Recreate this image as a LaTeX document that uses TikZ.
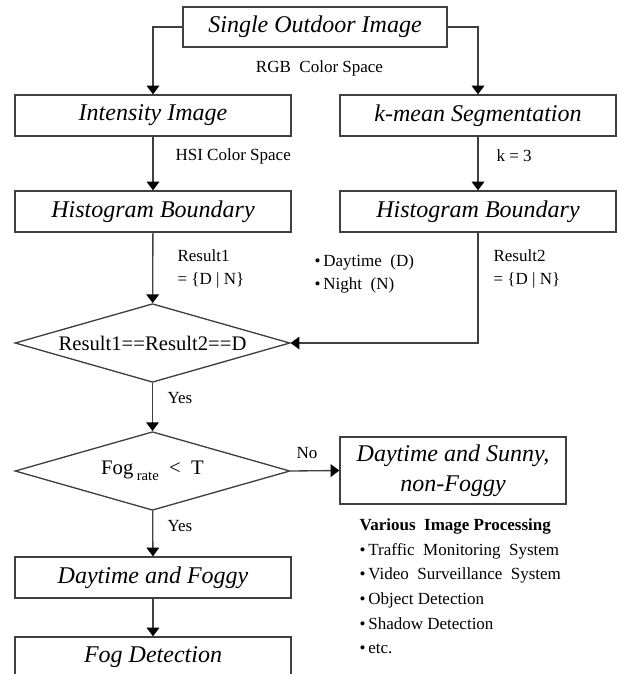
\documentclass[tikz,border=0pt]{standalone}
\usepackage{fontspec}
\setmainfont{Liberation Serif}
\usetikzlibrary{shapes.geometric,arrows.meta}

\begin{document}
\begin{tikzpicture}[x=0.75pt,y=-0.75pt]
    \tikzstyle{every node} = [font=\fontsize{12.75}{17.25}\selectfont]
    \tikzstyle{note} = [inner sep=1pt]
    \tikzstyle{block} = [draw=black!75, line width=1pt, rectangle, inner sep=0pt, minimum width=207pt, minimum height=30.75pt, font=\fontsize{18}{22.5}\selectfont\itshape]
    \tikzstyle{decision} = [draw=black!75, line width=1pt, diamond, aspect=3.44, inner sep=0pt, minimum width=206.25pt, minimum height=59pt, font=\fontsize{15.5}{18}\selectfont]
    \tikzstyle{flow} = [-{Triangle[width=9.5pt,length=6.5pt,color=black]}, draw=black!75, line width=1pt]
    \useasboundingbox (0,0) rectangle (618,674);

    % place nodes
    \node[block, minimum width=198pt, minimum height=30pt] (outdoor) at (315,27) {Single Outdoor Image};
    \node[block] (intensity) at (153,115.5) {Intensity Image};
    \node[block] (kmean) at (478,115.5) {k-mean Segmentation};
    \node[block] (histLeft) at (153,211.5) {Histogram Boundary};
    \node[block] (histRight) at (478,211.5) {Histogram Boundary};
    \node[decision] (sameDay) at (152.5,343) {Result1==Result2==D};
    \node[decision] (fogRate) at (152.5,471) {Fog\,\raisebox{-0.6ex}{\fontsize{11}{11}\selectfont rate}\ \ <\ \ T};
    \node[block, minimum width=169.5pt, minimum height=50.25pt, align=center] (sunny) at (453,470.5) {Daytime and Sunny,\\non-Foggy};
    \node[block] (foggy) at (153,577.5) {Daytime and Foggy};
    \node[block] (fogDetection) at (153,657.5) {Fog Detection};

    % labels
    \node[note] (rgbLabel) at (319.5,68) {RGB\ \ Color Space};
    \node[note, anchor=west] (hsiLabel) at (174,156) {HSI Color Space};
    \node[note, anchor=west] (kLabel) at (495,156) {k = 3};
    \node[note, anchor=west, align=left] (resultOne) at (176,268.5) {Result1\\= \{D | N\}};
    \node[note, anchor=west, align=left] (resultTwo) at (492,268.5) {Result2\\= \{D | N\}};
    \node[note, anchor=west, align=left] (dayNight) at (313,273.5) {\textbullet\,Daytime\ \ (D)\\\textbullet\,Night\ \ (N)};
    \node[note, anchor=west] (yesOne) at (166,398) {Yes};
    \node[note, anchor=west] (yesTwo) at (166,526) {Yes};
    \node[note] (noLabel) at (307,453) {No};
    \node[note, anchor=west, align=left, font=\fontsize{12.75}{18.45}\selectfont] (various) at (358,586.5)
        {\textbf{Various\ \ Image Processing}\\
         \textbullet\,Traffic\ \ Monitoring\ \ System\\
         \textbullet\,Video\ \ Surveillance\ \ System\\
         \textbullet\,Object Detection\\
         \textbullet\,Shadow Detection\\
         \textbullet\,etc.};

    % Connections
    \draw[flow] (outdoor.west) -| (intensity.north);
    \draw[flow] (outdoor.east) -| (kmean.north);
    \draw[flow] (intensity) -- (histLeft);
    \draw[flow] (kmean) -- (histRight);
    \draw[flow] (histLeft) -- (sameDay);
    \draw[flow] (histRight.south) |- (sameDay.east);
    \draw[flow] (sameDay) -- (fogRate);
    \draw[flow] (fogRate.east) -- (sunny.west);
    \draw[flow] (fogRate) -- (foggy);
    \draw[flow] (foggy) -- (fogDetection);

\end{tikzpicture}
\end{document}
